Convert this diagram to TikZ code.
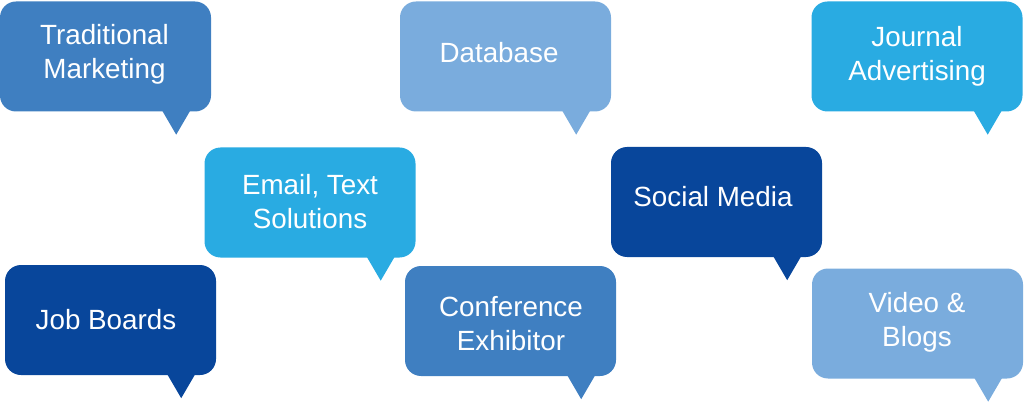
\documentclass[tikz,border=0pt]{standalone}
\usepackage{fontspec}
\setmainfont{Liberation Sans}
\definecolor{cmid}{HTML}{3F7FC1}
\definecolor{clight}{HTML}{7AACDD}
\definecolor{ccyan}{HTML}{29ABE2}
\definecolor{cdark}{HTML}{08469B}
\tikzset{
  bubble/.style={draw=none, rounded corners=16pt, minimum width=211pt, minimum height=110pt, inner sep=0pt},
  lbl/.style={text=white, align=center, font=\fontsize{27.8}{34}\selectfont, inner sep=0pt},
}
\newcommand{\ptr}[2]{\fill[#2] ([xshift=-49pt,yshift=1pt]#1.south east) -- ([xshift=-21pt,yshift=1pt]#1.south east) -- ([xshift=-35pt,yshift=-23pt]#1.south east) -- cycle;}
\begin{document}
\begin{tikzpicture}[x=1pt,y=-1pt]
\useasboundingbox (0,0) rectangle (1024,403);
% row 1
\node[bubble, fill=cmid] (tm) at (105.5,56.5) {};
\ptr{tm}{cmid}
\node[lbl] (tmt) at (104.5,54.5) {Traditional\\Marketing};
\node[bubble, fill=clight] (db) at (505.5,56.5) {};
\ptr{db}{clight}
\node[lbl] (dbt) at (499,52.5) {Database};
\node[bubble, fill=ccyan] (ja) at (917,56.5) {};
\ptr{ja}{ccyan}
\node[lbl] (jat) at (917,56) {Journal\\Advertising};
% row 2
\node[bubble, fill=ccyan] (em) at (310,202.5) {};
\ptr{em}{ccyan}
\node[lbl] (emt) at (310,202) {Email, Text\\Solutions};
\node[bubble, fill=cdark] (sm) at (716.5,202) {};
\ptr{sm}{cdark}
\node[lbl] (smt) at (713,196.5) {Social Media};
% row 3
\node[bubble, fill=cdark] (jb) at (110.5,320) {};
\ptr{jb}{cdark}
\node[lbl] (jbt) at (106,319.5) {Job Boards};
\node[bubble, fill=cmid] (ce) at (510.5,321) {};
\ptr{ce}{cmid}
\node[lbl] (cet) at (511,323.5) {Conference\\Exhibitor};
\node[bubble, fill=clight] (vb) at (917.5,323.5) {};
\ptr{vb}{clight}
\node[lbl] (vbt) at (917,322.5) {Video \&\\Blogs};
\end{tikzpicture}
\end{document}
